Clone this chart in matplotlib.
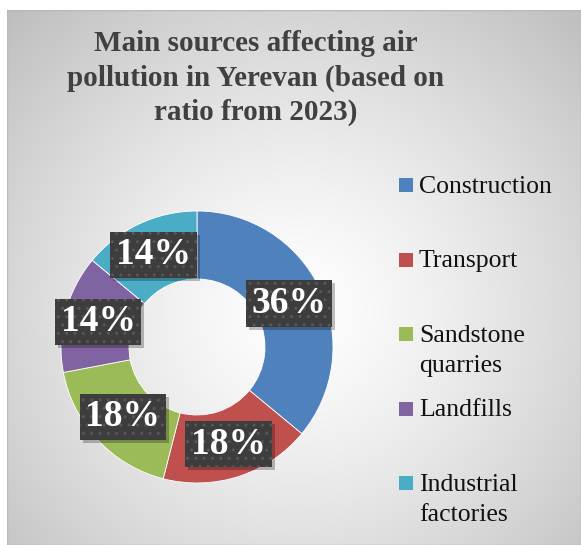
import matplotlib.pyplot as plt
import numpy as np
from matplotlib.patches import Rectangle

W, H = 581, 545

sources = ["Construction", "Transport", "Sandstone\nquarries", "Landfills", "Industrial\nfactories"]
shares = [36, 18, 18, 14, 14]
colors = ["#4F81BD", "#C0504D", "#9BBB59", "#8064A2", "#4BACC6"]
title = "Main sources affecting air\npollution in Yerevan (based on\nratio from 2023)"

plt.rcParams["font.family"] = ["Liberation Serif", "DejaVu Serif"]

fig = plt.figure(figsize=(W / 100, H / 100), dpi=100)
fig.patch.set_facecolor("white")

# chart area with a soft radial gradient
bg = fig.add_axes([7 / W, 0, 1 - 7 / W, 1 - 10 / H])
yy, xx = np.mgrid[0:535, 0:574]
dist = np.hypot((xx - 290) / 420, (yy - 300) / 420)
shade = 1 - 0.26 * np.clip(dist, 0, 1) ** 1.3
bg.imshow(np.dstack([shade] * 3), aspect="auto", extent=(0, 1, 0, 1), origin="upper")
bg.set_xlim(0, 1)
bg.set_ylim(0, 1)
bg.axis("off")
bg.add_patch(Rectangle((0, 0), 1, 1, transform=bg.transAxes, fill=False,
                       edgecolor="#b8b8b8", linewidth=1))

# donut
cx, cy, r = 197, 347, 136
ax = fig.add_axes([(cx - r) / W, (H - cy - r) / H, 2 * r / W, 2 * r / H])
wedges, texts, autotexts = ax.pie(
    shares,
    colors=colors,
    startangle=90,
    counterclock=False,
    autopct="%.0f%%",
    pctdistance=0.75,
    wedgeprops=dict(width=0.5, edgecolor="white", linewidth=0.6),
    textprops=dict(color="white", fontsize=27, fontweight="bold"),
)
ax.set_xlim(-1, 1)
ax.set_ylim(-1, 1)

for t in autotexts:
    t.set_bbox(dict(boxstyle="square,pad=0.15", facecolor="#3d3d3d", edgecolor="#575757",
                    hatch="..", linewidth=0))
    t.set_zorder(5)

# drop shadows behind the label boxes
fig.canvas.draw()
for t in autotexts:
    bb = t.get_bbox_patch().get_window_extent()
    ax.add_patch(Rectangle((bb.x0 + 3, bb.y0 - 3), bb.width, bb.height,
                           transform=None, facecolor="black", alpha=0.25,
                           edgecolor="none", zorder=4, clip_on=False))

fig.text(256 / W, 1 - 78 / H, title, ha="center", va="center", fontsize=21,
         fontweight="bold", color="#404040", linespacing=1.36)

# legend, one evenly spaced slot per entry
for i, (name, col) in enumerate(zip(sources, colors)):
    y = 185 + 74.5 * i
    fig.patches.append(Rectangle((399 / W, 1 - (y + 7) / H), 14 / W, 14 / H,
                                 transform=fig.transFigure, facecolor=col, edgecolor="none"))
    fig.text(419 / W, 1 - (y - 9) / H, name, ha="left", va="top", fontsize=18.5,
             color="#111111", linespacing=1.45)

fig.savefig("out.png", dpi=100)
